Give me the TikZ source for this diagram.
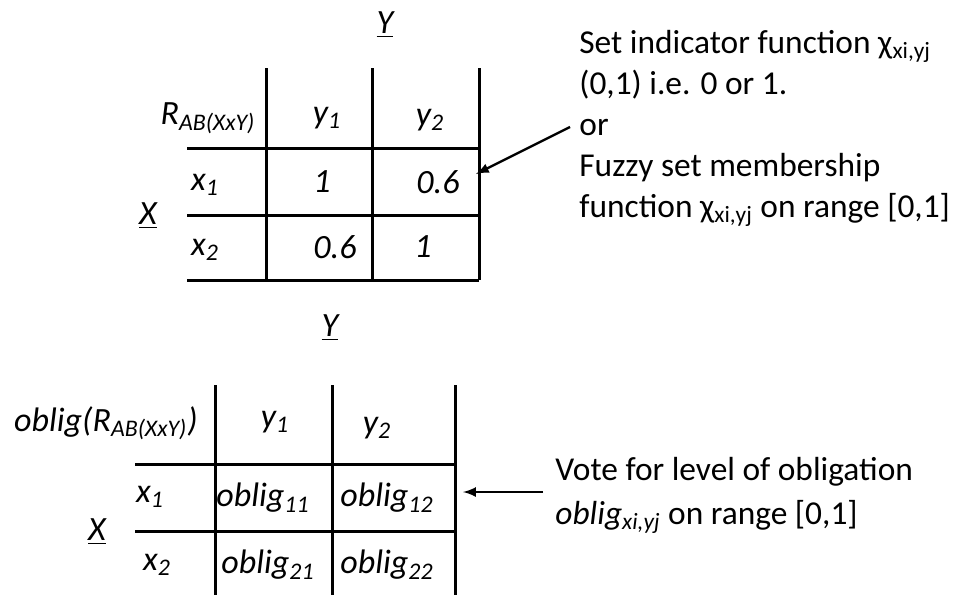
\documentclass[tikz,border=0pt]{standalone}
\usepackage{fontspec}
\setmainfont{Carlito}
\usetikzlibrary{positioning}
\tikzstyle{arrow} = [line width=1.2pt,->,>=latex]
\tikzstyle{grid} = [line width=1.5pt]
\tikzstyle{cell} = [font=\fontsize{17}{19}\selectfont\itshape, inner sep=0pt]
\tikzstyle{note} = [align=left, anchor=west, inner sep=0pt]

\begin{document}
\begin{tikzpicture}[x=0.5pt,y=-0.5pt]
\useasboundingbox (0,0) rectangle (978,595);

% upper table
\draw [grid] (266,68) -- (266,280);
\draw [grid] (372,68) -- (372,280);
\draw [grid] (479,68) -- (479,280);
\draw [grid] (187,148) -- (479,148);
\draw [grid] (187,215) -- (479,215);
\draw [grid] (187,280) -- (479,280);

\node (ytop) [cell] at (385,25) {\underline{Y}};
\node (xtop) [cell] at (148,216) {\underline{X}};
\node (rel) [cell] at (208,118) {R\textsubscript{AB(XxY)}};
\node (ya1) [cell] at (327,118) {y\textsubscript{1}};
\node (ya2) [cell] at (430,120) {y\textsubscript{2}};
\node (xa1) [cell] at (205,185) {x\textsubscript{1}};
\node (xa2) [cell] at (205,250) {x\textsubscript{2}};
\node (a11) [cell] at (322,182) {1};
\node (a12) [cell] at (438,182) {0.6};
\node (a21) [cell] at (335,247) {0.6};
\node (a22) [cell] at (423,247) {1};

\node (chi) [note, font=\fontsize{16.7}{20.5}\selectfont] at (579,128) {
    Set indicator function χ\textsubscript{xi,yj} \\
    (0,1) i.e. 0 or 1. \\
    or \\
    Fuzzy set membership \\
    function χ\textsubscript{xi,yj} on range [0,1]
};
\coordinate (tail1) at (570,127);
\coordinate (tip1) at (476,174);
\draw [arrow] (tail1) -- (tip1);

% lower table
\draw [grid] (215,385) -- (215,595);
\draw [grid] (332,385) -- (332,595);
\draw [grid] (455,385) -- (455,595);
\draw [grid] (135,464) -- (455,464);
\draw [grid] (135,531) -- (455,531);

\node (ybot) [cell] at (330,328) {\underline{Y}};
\node (xbot) [cell] at (97,532) {\underline{X}};
\node (obl) [cell] at (106,423) {oblig(R\textsubscript{AB(XxY)})};
\node (yb1) [cell] at (275,422) {y\textsubscript{1}};
\node (yb2) [cell] at (377,428) {y\textsubscript{2}};
\node (xb1) [cell] at (150,497) {x\textsubscript{1}};
\node (xb2) [cell] at (157,565) {x\textsubscript{2}};
\node (b11) [cell] at (263,498) {oblig\textsubscript{11}};
\node (b12) [cell] at (387,498) {oblig\textsubscript{12}};
\node (b21) [cell] at (268,565) {oblig\textsubscript{21}};
\node (b22) [cell] at (387,565) {oblig\textsubscript{22}};

\node (vote) [note, font=\fontsize{16.7}{22}\selectfont] at (555,495) {
    Vote for level of obligation \\
    \textit{oblig}\textsubscript{\textit{xi,yj}} on range [0,1]
};
\coordinate (tail2) at (543,492);
\coordinate (tip2) at (463,492);
\draw [arrow] (tail2) -- (tip2);
\end{tikzpicture}
\end{document}
